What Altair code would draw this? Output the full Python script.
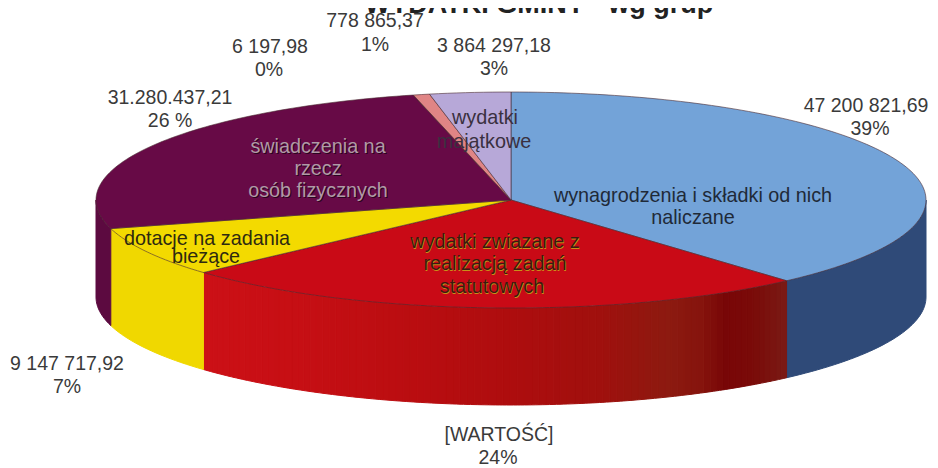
import math
import altair as alt
import pandas as pd

# Values, clockwise from 12 o'clock
categories = ["wynagrodzenia", "statutowe", "dotacje", "swiadczenia", "inne", "drobne", "majatkowe"]
values = [47200821.69, 30500000.0, 9147717.92, 31280437.21, 6197.98, 778865.37, 3864297.18]
top_colors = ["#73a3d8", "#c90a16", "#f3da00", "#670a46", "#7a1050", "#e08585", "#b7a8d8"]
side_colors = ["#2f4a78", "#b80c10", "#f0d800", "#5c0a40", "#5c0a40", "#a06060", "#8070a0"]
# shading of the red wall, from its left end to its right end (page x, colour)
red_wall_stops = [(204, "#cc1016"), (300, "#c60f14"), (420, "#b90d10"), (520, "#ac0d0e"), (600, "#a0100d"),
                  (670, "#8c1a10"), (700, "#86140d"), (725, "#780607"), (750, "#7a0a08"), (785, "#7a1a14")]

W, H = 922, 459
CX, CY, A, B, DEPTH = 503, 192, 415, 108, 97


def pt(frac, drop=0.0):
    t = 2 * math.pi * frac
    return CX + A * math.sin(t), CY - B * math.cos(t) + drop


def shade_at(page_x):
    for (x0, c0), (x1, c1) in zip(red_wall_stops, red_wall_stops[1:]):
        if page_x <= x1:
            u = max(0.0, (page_x - x0) / (x1 - x0))
            ch = [round(int(c0[j:j + 2], 16) * (1 - u) + int(c1[j:j + 2], 16) * u) for j in (1, 3, 5)]
            return "#%02x%02x%02x" % tuple(ch)
    return red_wall_stops[-1][1]


total = sum(values)
cuts = [0.0]
for v in values:
    cuts.append(cuts[-1] + v / total)

side_rows, top_rows = [], []


def add_wall(name, f0, f1, fill):
    n = max(2, int((f1 - f0) * 300))
    upper = [pt(f0 + (f1 - f0) * k / n) for k in range(n + 1)]
    lower = [pt(f0 + (f1 - f0) * k / n, DEPTH) for k in range(n, -1, -1)]
    for i, (x, y) in enumerate(upper + lower):
        side_rows.append(dict(poly=name, i=i, x=x, y=y, fill=fill))


for idx, name in enumerate(categories):
    f0, f1 = cuts[idx], cuts[idx + 1]
    n = max(2, int((f1 - f0) * 300))
    rows = [(CX, CY)] + [pt(f0 + (f1 - f0) * k / n) for k in range(n + 1)]
    for i, (x, y) in enumerate(rows):
        top_rows.append(dict(poly=name, i=i, x=x, y=y, fill=top_colors[idx]))
    a, b = max(f0, 0.25), min(f1, 0.75)
    if a < b:
        if name == "statutowe":
            m = 90
            for s in range(m):
                g1 = a + (b - a) * (s + 1) / m
                g0 = a + (b - a) * s / m
                mid_x = pt((g0 + g1) / 2)[0] + 8
                add_wall(f"{name}{s}", g0, g1, shade_at(mid_x))
        else:
            add_wall(name, a, b, side_colors[idx])

x_scale = alt.Scale(domain=[0, W], range=[0, W], nice=False, zero=False)
y_scale = alt.Scale(domain=[0, H], range=[0, H], nice=False, zero=False)


def polys(rows, stroke=None, sw=1.0):
    base = alt.Chart(pd.DataFrame(rows)).mark_line(
        interpolate="linear-closed", strokeWidth=sw, **({"stroke": stroke} if stroke else {})
    )
    enc = dict(
        x=alt.X("x:Q", scale=x_scale, axis=None),
        y=alt.Y("y:Q", scale=y_scale, axis=None),
        detail="poly:N",
        order="i:Q",
        fill=alt.Fill("fill:N", scale=None, legend=None),
    )
    if not stroke:
        enc["stroke"] = alt.Stroke("fill:N", scale=None, legend=None)
    return base.encode(**enc)


def label(text, x, y, size=20, color="#333333", weight="normal", shadow=None, dx=1, dy=1):
    d = pd.DataFrame({"t": [text]})
    layers = []
    if shadow:
        layers.append(alt.Chart(d).mark_text(font="Liberation Sans", fontSize=size, color=shadow, baseline="middle",
                                             align="center").encode(text="t:N", x=alt.value(x - 8 + dx), y=alt.value(y - 8 + dy)))
    layers.append(alt.Chart(d).mark_text(font="Liberation Sans", fontSize=size, color=color, fontWeight=weight,
                                         baseline="middle", align="center").encode(text="t:N", x=alt.value(x - 8), y=alt.value(y - 8)))
    return layers


texts = []
OUT = "#3a3a3a"
for t, x, y in [
    ("778 865,37", 375, 21), ("1%", 375, 45),
    ("6 197,98", 270, 47), ("0%", 269, 70),
    ("3 864 297,18", 494, 46), ("3%", 494, 69),
    ("31.280.437,21", 170, 98), ("26 %", 170, 121),
    ("47 200 821,69", 866, 106), ("39%", 870, 129),
    ("9 147 717,92", 67, 364), ("7%", 67, 387),
    ("[WARTOŚĆ]", 499, 435), ("24%", 498, 458),
]:
    texts += label(t, x, y, size=19.5, color=OUT)

texts += label("WYDATKI GMINY - wg grup", 539, 5, size=27, color="#222222", weight="bold")

for t, x, y in [("wynagrodzenia i składki od nich", 693, 196), ("naliczane", 693, 218)]:
    texts += label(t, x, y, size=19.8, color="#1f2a38")
for t, x, y in [("wydatki zwiazane z", 495, 242), ("realizacją zadań", 495, 264), ("statutowych", 492, 287)]:
    texts += label(t, x, y, size=19.8, color="#3a1a10", shadow="#c89018", dx=0.7, dy=0.7)
for t, x, y in [("świadczenia na", 318, 147), ("rzecz", 318, 169), ("osób fizycznych", 318, 191)]:
    texts += label(t, x, y, size=19.8, color="#b09aa6", shadow="#2a0420", dx=1, dy=1)
for t, x, y in [("wydatki", 485, 118), ("majątkowe", 484, 142)]:
    texts += label(t, x, y, size=19.8, color="#3a3040")
for t, x, y in [("dotacje na zadania", 207, 239), ("bieżące", 206, 257)]:
    texts += label(t, x, y, size=19.8, color="#2e2a10")

chart = alt.layer(polys(side_rows), polys(top_rows, stroke="#4a2a30", sw=0.6), *texts).properties(
    width=W, height=H, padding=0, autosize=alt.AutoSizeParams(type="none")
).configure_view(stroke=None)

chart.save("out.html", embed_options={"renderer": "svg", "actions": False})
